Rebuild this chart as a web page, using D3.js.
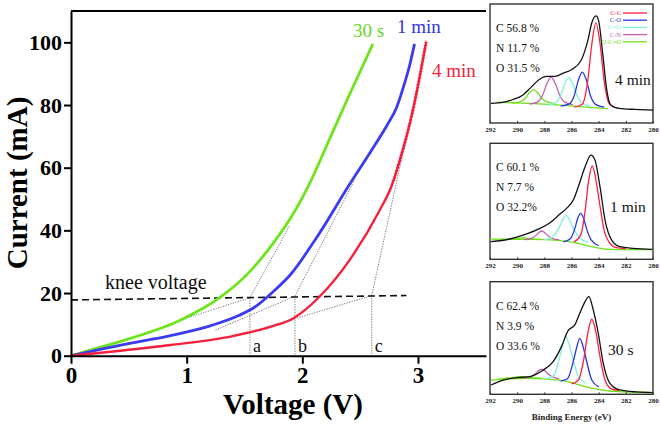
<!DOCTYPE html>
<html><head><meta charset="utf-8">
<script src="https://cdn.jsdelivr.net/npm/d3@7"></script>
<style>
body{margin:0;background:#fff;}
svg{display:block;font-family:"Liberation Serif","Times New Roman",serif;}
</style></head>
<body><svg id="c" width="661" height="427"></svg>
<script>
// ---------- main I-V data [voltage (V), current (mA)] ----------
const iv30s = [[0,0],[0.17,1.8],[0.52,5.6],[0.95,11.4],[1.3,18.9],[1.55,27.0],[1.75,36],[1.9,44],[2.07,55.5],[2.24,69.5],[2.41,83.5],[2.61,99.5]];
const iv1min = [[0,0],[0.43,3.4],[0.86,6.4],[1.21,9.6],[1.45,12.8],[1.6,15.8],[1.75,20.5],[1.9,26],[2.12,37.5],[2.41,54.8],[2.585,64.8],[2.73,73.4],[2.815,79.2],[2.873,85.6],[2.93,93],[2.97,99.5]];
const iv4min = [[0,0],[0.43,1.6],[0.86,3.4],[1.38,6.1],[1.73,9.3],[1.92,11.9],[2.03,14.8],[2.15,18.9],[2.41,30.6],[2.67,46.5],[2.77,54],[2.84,62],[2.96,79],[3.07,100]];
const kneeLine = [[0,17.8],[2.9,19.2]];
const tangentLines = [
  [[0.95,11.4],[1.547,18.5]], [[1.547,18.5],[1.89,41.5]],
  [[1.25,8.2],[1.936,19.0]],  [[1.936,19.0],[2.45,56.0]],
  [[1.5,7.0],[2.6,19.2]],     [[2.6,19.2],[2.96,80]]
];
const kneePoints = [["a",1.547,18.5],["b",1.936,19.0],["c",2.6,19.2]];
const xTicks = [0,1,2,3];
const yTicks = [0,20,40,60,80,100];
const seriesNames = ["30 s","1 min","4 min"];

// ---------- XPS C1s insets [binding energy (eV), intensity (a.u.)] ----------
const beTicks = [292,290,288,286,284,282,280];
const legendLabels = ["C-C","C-O","C=O","C-N","O-C=O"];
const compLabels4min = ["C 56.8 %","N 11.7 %","O 31.5 %"];
const compLabels1min = ["C 60.1 %","N 7.7 %","O 32.2%"];
const compLabels30s = ["C 62.4 %","N 3.9 %","O 33.6 %"];

const x4Total = [[291.93,19.7],[291.0,21],[290.3,23.7],[289.6,28],[289.0,35.7],[288.4,43.7],[287.8,47],[287.2,47],[286.6,50.3],[286.0,53.7],[285.3,63],[284.8,83],[284.5,101.3],[284.2,108],[284.0,103],[283.7,69.7],[283.4,33],[283.1,18],[282.5,14.7],[281.3,13.7],[280.0,13]];
const x4CC = [[285.8,16],[285.2,19],[284.8,43],[284.5,80],[284.2,101],[283.9,80],[283.6,43],[283.2,19],[282.6,15]];
const x4CO = [[286.8,17],[286.2,19],[285.8,27.5],[285.5,43],[285.2,51.3],[284.9,43],[284.6,27.5],[284.2,18.5],[283.6,16]];
const x4CdO = [[287.8,18],[287.2,20],[286.8,28],[286.5,39],[286.2,45.7],[285.9,39],[285.6,28],[285.2,20],[284.6,17]];
const x4CN = [[289.1,19],[288.5,21],[288.1,29],[287.8,40],[287.5,46.3],[287.2,40],[286.9,29],[286.5,21],[285.9,18.5]];
const x4OCO = [[290.4,20],[289.8,21.3],[289.4,25],[289.1,30.5],[288.8,33.7],[288.5,30.5],[288.2,25],[287.8,21.3],[287.2,19.5]];
const x4Bg = [[291.5,21],[289,19.7],[286.5,17.7],[284.5,15.6],[283.3,14.5]];

const x1Total = [[291.93,18.2],[290.53,21],[289.3,26.2],[288.32,32],[287.58,37.9],[286.85,46.8],[286.36,52.7],[285.87,61.3],[285.5,75],[285.0,95.7],[284.57,107.8],[284.27,102.6],[283.9,75],[283.53,40.6],[283.04,19.9],[282.43,13],[281.45,11.3],[280.02,10.3]];
const x1CC = [[285.8,18],[285.3,26],[285.0,50],[284.75,80],[284.47,96.5],[284.2,82],[283.9,55],[283.6,30],[283.2,17],[282.7,12],[282,11]];
const x1CO = [[286.6,18],[286.1,21],[285.75,32],[285.55,42],[285.33,47.5],[285.1,42],[284.9,32],[284.55,20],[284,14]];
const x1CdO = [[288.0,20],[287.4,23],[286.9,33],[286.65,41],[286.4,45.8],[286.15,41],[285.9,33],[285.4,22],[284.8,17.5]];
const x1CN = [[289.5,20.3],[289.0,21.5],[288.6,25],[288.4,27.8],[288.2,29.3],[288.0,27.8],[287.8,25],[287.4,21.5],[286.9,20]];
const x1OCO = [[290.8,20.6],[290.2,21.2],[289.9,21.7],[289.55,22.3],[289.2,21.7],[288.9,21.2],[288.3,20.6]];
const x1Bg = [[292,20.8],[289,20.6],[287.2,19.9],[285.5,16.5],[284.5,13],[283.5,10.5],[282.5,10],[280,10]];

const x3Total = [[291.93,9.9],[291.02,15.2],[290.04,17.7],[289.06,18.8],[288.08,25.9],[287.35,34.8],[286.74,50.8],[286.25,67.9],[285.76,73.9],[285.39,86.3],[285.0,98.8],[284.72,104.1],[284.4,89.9],[284.03,65],[283.66,33],[283.17,11.7],[282.43,4.6],[281.2,2.5],[280.02,1.8]];
const x3CC = [[286.0,11],[285.5,15],[285.1,37],[284.8,65],[284.51,80],[284.2,66],[283.9,40],[283.55,16],[283.1,6],[282.5,4]];
const x3CO = [[286.8,14],[286.3,16.5],[285.85,36],[285.6,51],[285.39,59.7],[285.15,51],[284.9,36],[284.5,15],[284,8]];
const x3CdO = [[287.9,16.5],[287.3,20],[286.9,38],[286.65,52],[286.41,60.8],[286.15,52],[285.9,38],[285.5,19],[285.0,12.5]];
const x3CN = [[289.5,17.3],[289.0,18.8],[288.6,22.8],[288.4,25.5],[288.2,26.6],[288.0,25.5],[287.8,22.8],[287.4,18.5],[286.9,16.5]];
const x3OCO = [[291.5,16],[290.6,17.4],[290.1,18.3],[289.74,18.8],[289.4,18.4],[288.9,17.8],[288.2,17.2]];
const x3Bg = [[291.93,15.2],[289.3,17],[286.85,15.2],[285.63,10.9],[284.4,6.3],[283.17,3.5],[280.02,1.8]];

// ---------- drawing ----------
const svg = d3.select("#c");
const col = {g:"#6ee41c", b:"#3b3bf0", r:"#f5203c"};
const xV = d3.scaleLinear().domain([0,3.588]).range([71,486]);
const yI = d3.scaleLinear().domain([0,110]).range([355.7,11]);
const lineIV = d3.line().x(d=>xV(d[0])).y(d=>yI(d[1])).curve(d3.curveMonotoneX);
const lineStraight = d3.line().x(d=>xV(d[0])).y(d=>yI(d[1]));

const main = svg.append("g");
main.append("line").attr("x1",xV.range()[0]).attr("x2",xV.range()[1])
  .attr("y1",yI.range()[1]).attr("y2",yI.range()[1]).attr("stroke","#000").attr("stroke-width",2);

// construction lines
tangentLines.forEach(l=>main.append("path").attr("d",lineStraight(l)).attr("fill","none")
  .attr("stroke","#5a6070").attr("stroke-width",0.9).attr("stroke-dasharray","1.2,1.4"));
kneePoints.forEach(k=>{
  main.append("path").attr("d",lineStraight([[k[1],k[2]],[k[1],0]])).attr("fill","none")
    .attr("stroke","#5a6070").attr("stroke-width",0.9).attr("stroke-dasharray","1.2,1.4");
  main.append("text").attr("x",xV(k[1])+3).attr("y",yI(0)-4).text(k[0])
    .attr("font-size",18).attr("fill","#111");
});
main.append("path").attr("d",lineStraight(kneeLine)).attr("fill","none")
  .attr("stroke","#111").attr("stroke-width",1.6).attr("stroke-dasharray","7,4");
main.append("text").attr("x",105).attr("y",289).text("knee voltage").attr("font-size",20).attr("fill","#111");

// curves
main.append("path").attr("d",lineIV(iv30s)).attr("fill","none").attr("stroke",col.g).attr("stroke-width",2.8);
main.append("path").attr("d",lineIV(iv1min)).attr("fill","none").attr("stroke",col.b).attr("stroke-width",2.8);
const redPath = main.append("path").attr("d",lineIV(iv4min)).attr("fill","none").attr("stroke",col.r).attr("stroke-width",2.4);
(function(){
  const node = redPath.node(), L = node.getTotalLength();
  const g = main.append("g").attr("stroke",col.r).attr("stroke-width",0.8);
  for(let s=L; s>0; s-=3.3){
    const p = node.getPointAtLength(s);
    if(p.y > yI(55)) break;
    g.append("path").attr("d",`M${p.x-1.8},${p.y}H${p.x+1.8}M${p.x},${p.y-1.8}V${p.y+1.8}`);
  }
})();

// series labels
main.append("text").attr("x",353).attr("y",37).text(seriesNames[0]).attr("font-size",19).attr("fill","#5fd81f");
main.append("text").attr("x",397).attr("y",33).text(seriesNames[1]).attr("font-size",19).attr("fill","#3535e0");
main.append("text").attr("x",432).attr("y",77).text(seriesNames[2]).attr("font-size",19).attr("fill","#f01f3c");

// axes
const ax = main.append("g").attr("transform",`translate(0,${yI(0)})`)
  .call(d3.axisBottom(xV).tickValues(xTicks).tickSize(8).tickSizeOuter(0).tickPadding(3).tickFormat(d3.format("d")));
ax.selectAll("path,line").attr("stroke","#000").attr("stroke-width",2);
ax.selectAll("text").attr("font-size",23).attr("font-weight","bold").attr("fill","#000").attr("font-family","Liberation Serif");
const ay = main.append("g").attr("transform",`translate(${xV(0)},0)`)
  .call(d3.axisLeft(yI).tickValues(yTicks).tickSize(7).tickSizeOuter(0).tickPadding(2));
ay.selectAll("path,line").attr("stroke","#000").attr("stroke-width",2);
ay.selectAll("text").attr("font-size",22).attr("font-weight","bold").attr("fill","#000").attr("font-family","Liberation Serif");

main.append("text").attr("x",293).attr("y",414).attr("text-anchor","middle").text("Voltage (V)")
  .attr("font-size",29).attr("font-weight","bold");
main.append("text").attr("transform","translate(27,183) rotate(-90)").attr("text-anchor","middle")
  .text("Current (mA)").attr("font-size",29).attr("font-weight","bold");

// ---------- insets ----------
const ic = {cc:"#ff2040", co:"#2a35e0", cdo:"#80f0d8", cn:"#c060b0", oco:"#6fe01a", tot:"#111"};
function inset(top,bottom,data,comp,tag,legend,xlabel){
  const g = svg.append("g");
  const xs = d3.scaleLinear().domain([292,280]).range([490,653]);
  const ys = d3.scaleLinear().domain([0,120]).range([bottom,top]);
  g.append("rect").attr("x",xs.range()[0]).attr("y",top).attr("width",xs.range()[1]-xs.range()[0])
    .attr("height",bottom-top).attr("fill","#fff").attr("stroke","#333").attr("stroke-width",1.4);
  const ln = d3.line().x(d=>xs(d[0])).y(d=>ys(d[1])).curve(d3.curveMonotoneX);
  const draw=(d,c,w)=>g.append("path").attr("d",ln(d)).attr("fill","none").attr("stroke",c).attr("stroke-width",w);
  draw(data.bg,ic.oco,1.3);
  draw(data.oco,ic.oco,1.3);
  draw(data.cn,ic.cn,1.3);
  draw(data.cdo,ic.cdo,1.3);
  draw(data.co,ic.co,1.3);
  draw(data.cc,ic.cc,1.3);
  draw(data.tot,ic.tot,1.3);
  const a = g.append("g").attr("transform",`translate(0,${bottom})`)
    .call(d3.axisBottom(xs).tickValues(beTicks).tickSizeInner(-2).tickSizeOuter(0).tickPadding(4));
  a.select(".domain").remove();
  a.selectAll("line").attr("stroke","#333");
  a.selectAll("text").attr("font-size",7).attr("font-weight","bold").attr("fill","#222").attr("font-family","Liberation Serif");
  comp.forEach((t,i)=>g.append("text").attr("x",496).attr("y",top+28+i*20).text(t).attr("font-size",11.5).attr("fill","#111"));
  g.append("text").attr("x",tag.x).attr("y",tag.y).text(tag.t).attr("font-size",15.5).attr("fill","#111");
  if(legend){
    const cs=[ic.cc,ic.co,ic.cdo,ic.cn,ic.oco];
    legendLabels.forEach((t,i)=>{
      const yy = top+9+i*7.2;
      g.append("text").attr("x",621).attr("y",yy+2).attr("text-anchor","end").text(t).attr("font-size",6.5).attr("fill",cs[i]);
      g.append("line").attr("x1",623).attr("x2",647).attr("y1",yy).attr("y2",yy).attr("stroke",cs[i]).attr("stroke-width",1.3);
    });
  }
  if(xlabel){
    g.append("text").attr("x",xs(286)).attr("y",bottom+26).attr("text-anchor","middle").text(xlabel)
      .attr("font-size",9).attr("font-weight","bold").attr("fill","#222");
  }
}
inset(4,123,{tot:x4Total,cc:x4CC,co:x4CO,cdo:x4CdO,cn:x4CN,oco:x4OCO,bg:x4Bg},compLabels4min,{t:"4 min",x:615,y:85},true,null);
inset(143.3,259.3,{tot:x1Total,cc:x1CC,co:x1CO,cdo:x1CdO,cn:x1CN,oco:x1OCO,bg:x1Bg},compLabels1min,{t:"1 min",x:610,y:212},false,null);
inset(281.7,394.3,{tot:x3Total,cc:x3CC,co:x3CO,cdo:x3CdO,cn:x3CN,oco:x3OCO,bg:x3Bg},compLabels30s,{t:"30 s",x:608,y:355},false,"Binding Energy (eV)");
</script></body></html>
